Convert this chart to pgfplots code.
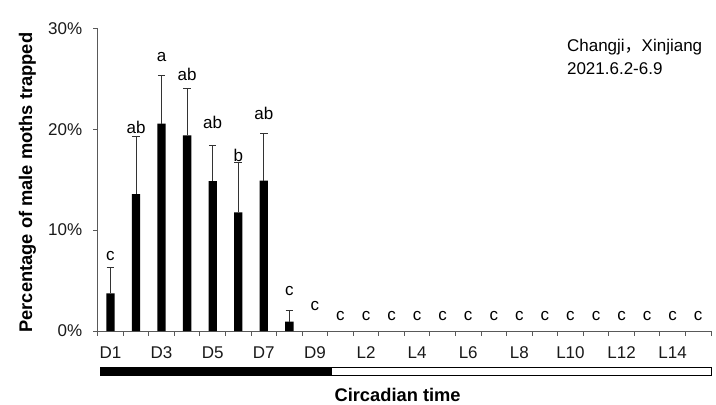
\documentclass[border=0pt]{standalone}
\usepackage{fontspec}
\setmainfont{Liberation Sans}
\newfontfamily\cjk{Noto Sans CJK SC}
\usepackage{pgfplots}
\usepackage{pgfplotstable}
\pgfplotsset{compat=1.18}
\pgfplotstableread{
x y err
1 3.73 2.54
2 13.56 5.74
3 20.56 4.74
4 19.40 4.60
5 14.85 3.55
6 11.75 4.95
7 14.90 4.70
8 0.93 1.07
}\bars
\newcommand{\fs}{\fontsize{17bp}{20bp}\selectfont}
\newcommand{\fl}{\fontsize{18.3bp}{21bp}\selectfont\bfseries}
\begin{document}
\begin{tikzpicture}
\path[use as bounding box] (0,0) rectangle (716bp,405bp);
\begin{axis}[
  at={(97.7bp,74bp)}, anchor=south west,
  scale only axis, width=613.3bp, height=302.7bp,
  xmin=0.5, xmax=24.5, ymin=0, ymax=30,
  axis x line*=bottom, axis y line*=left,
  axis line style={black!65, line width=0.9bp, -},
  every tick/.style={black!65, line width=0.9bp},
  tick align=outside,
  major tick length=4.5bp,
  xtick={0.5,1.5,...,24.5},
  xticklabels={D1,{},D3,{},D5,{},D7,{},D9,{},L2,{},L4,{},L6,{},L8,{},L10,{},L12,{},L14,{},{}},
  ytick={0,10,20,30}, yticklabels={0\%,10\%,20\%,30\%},
  ticklabel style={font=\fs, text=black!90},
  yticklabel style={xshift=-7.5bp},
  xticklabel style={yshift=-7.5bp, xshift=12.78bp},
  clip=false,
  xlabel={Circadian time},
  ylabel={Percentage of male moths trapped},
  every axis x label/.style={at={(axis description cs:0.489,-0.2335)}, anchor=base, font=\fl},
  every axis y label/.style={at={(axis description cs:-0.1145,0.49)}, anchor=center, rotate=90, font=\fl},
]
\addplot[ybar, bar width=8.3bp, fill=black, draw=none,
  error bars/.cd, y dir=plus, y explicit,
  error mark=-,
  error bar style={black!80, line width=0.8bp},
  error mark options={rotate=90, black!80, line width=0.8bp, mark size=3.8bp}]
  table[x=x, y=y, y error=err]{\bars};
% significance letters
\node[anchor=base, font=\fs] at (axis cs:1,7.03) {c};
\node[anchor=base, font=\fs] at (axis cs:2,19.6) {ab};
\node[anchor=base, font=\fs] at (axis cs:3,26.7) {a};
\node[anchor=base, font=\fs] at (axis cs:4,24.85) {ab};
\node[anchor=base, font=\fs] at (axis cs:5,20.1) {ab};
\node[anchor=base, font=\fs] at (axis cs:6,16.8) {b};
\node[anchor=base, font=\fs] at (axis cs:7,21.0) {ab};
\node[anchor=base, font=\fs] at (axis cs:8,3.47) {c};
\node[anchor=base, font=\fs] at (axis cs:9,2.08) {c};
\pgfplotsinvokeforeach{10,...,24}{\node[anchor=base, font=\fs] at (axis cs:#1,1.09) {c};}
% dark / light phase bar
\draw[fill=black, line width=0.8bp] (axis cs:0.62,-3.56) rectangle (axis cs:9.65,-4.36);
\draw[fill=white, line width=0.8bp] (axis cs:9.65,-3.56) rectangle (axis cs:24.5,-4.36);
% annotation
\node[anchor=base west, font=\fs, inner sep=0pt] at (axis cs:18.86,27.68) {Changji{\cjk ，}Xinjiang};
\node[anchor=base west, font=\fs, inner sep=0pt] at (axis cs:18.86,25.47) {2021.6.2-6.9};
\end{axis}
\end{tikzpicture}
\end{document}
